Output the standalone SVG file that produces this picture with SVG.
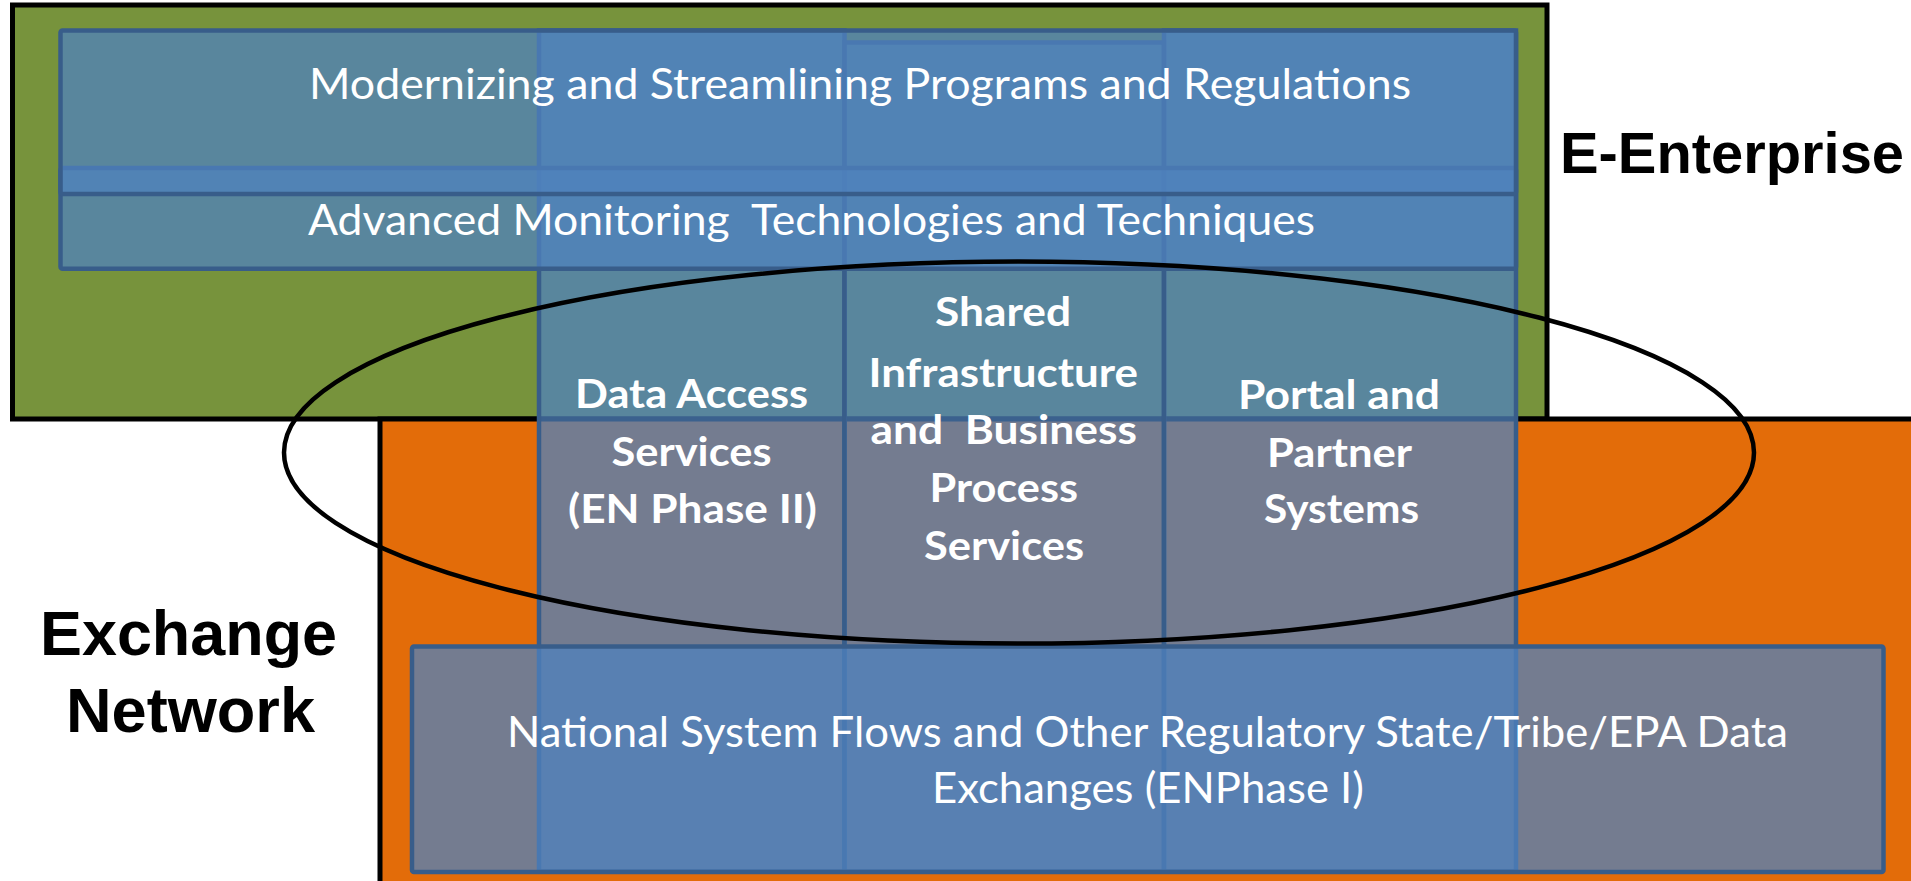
<svg xmlns="http://www.w3.org/2000/svg" width="1911" height="881" viewBox="0 0 1911 881">
<style>
.frame{stroke:#000;stroke-width:5}
.box{fill:#4f81bd;fill-opacity:.75;stroke:#385d8a;stroke-width:4.5}
.t{font-family:Lato,"Open Sans","Liberation Sans",sans-serif;fill:#fff;white-space:pre}
.reg{font-size:43px}
.bold{font-size:40px;font-weight:700}
.lbl{font-family:"Liberation Sans",Arial,sans-serif;font-weight:700;fill:#000}
.scope{fill:none;stroke:#000;stroke-width:4.5}
</style>
<rect width="1911" height="881" fill="#fff"/>
<g id="e-enterprise">
<rect class="frame" x="12.5" y="5" width="1534.5" height="414" fill="#77933c"/>
<text class="lbl" x="1560" y="173" font-size="57" textLength="344" lengthAdjust="spacingAndGlyphs">E-Enterprise</text>
</g>
<g id="exchange-network">
<rect class="frame" x="380" y="419" width="1540" height="470" fill="#e36c09"/>
<text class="lbl" x="40" y="655" font-size="63" textLength="297" lengthAdjust="spacingAndGlyphs">Exchange</text>
<text class="lbl" x="66" y="732" font-size="63" textLength="249" lengthAdjust="spacingAndGlyphs">Network</text>
</g>
<g id="col-data-access">
<rect class="box" x="539" y="30.5" width="305.5" height="841"/>
<text class="t bold" x="575" y="408" textLength="233" lengthAdjust="spacingAndGlyphs">Data Access</text>
<text class="t bold" x="611.5" y="466" textLength="160" lengthAdjust="spacingAndGlyphs">Services</text>
<text class="t bold" x="568" y="523" textLength="249" lengthAdjust="spacingAndGlyphs">(EN Phase II)</text>
</g>
<g id="col-shared">
<rect class="box" x="844.5" y="42.5" width="319.5" height="829"/>
<text class="t bold" x="935" y="326" textLength="136" lengthAdjust="spacingAndGlyphs">Shared</text>
<text class="t bold" x="868.5" y="387" textLength="269.5" lengthAdjust="spacingAndGlyphs">Infrastructure</text>
<text class="t bold" x="870.5" y="444" textLength="266.5" lengthAdjust="spacingAndGlyphs">and  Business</text>
<text class="t bold" x="929.5" y="502" textLength="148.5" lengthAdjust="spacingAndGlyphs">Process</text>
<text class="t bold" x="924" y="560" textLength="160" lengthAdjust="spacingAndGlyphs">Services</text>
</g>
<g id="col-portal">
<rect class="box" x="1164" y="30.5" width="352" height="841"/>
<text class="t bold" x="1238" y="409" textLength="202" lengthAdjust="spacingAndGlyphs">Portal and</text>
<text class="t bold" x="1267" y="467" textLength="145" lengthAdjust="spacingAndGlyphs">Partner</text>
<text class="t bold" x="1264" y="523" textLength="155" lengthAdjust="spacingAndGlyphs">Systems</text>
</g>
<g id="advanced-monitoring">
<rect class="box" x="60.5" y="168" width="1455.5" height="100.7" rx="2"/>
<text class="t reg" x="308" y="235" textLength="1007" lengthAdjust="spacingAndGlyphs">Advanced Monitoring  Technologies and Techniques</text>
</g>
<g id="modernizing">
<rect class="box" x="60.5" y="30.5" width="1455.5" height="163.5" rx="2"/>
<text class="t reg" x="309" y="99" textLength="1102" lengthAdjust="spacingAndGlyphs">Modernizing and Streamlining Programs and Regulations</text>
</g>
<g id="national-flows">
<rect class="box" x="412" y="646.5" width="1471.5" height="225.5" rx="2"/>
<text class="t reg" x="507" y="747" textLength="1281" lengthAdjust="spacingAndGlyphs">National System Flows and Other Regulatory State/Tribe/EPA Data</text>
<text class="t reg" x="932" y="803" textLength="432" lengthAdjust="spacingAndGlyphs">Exchanges (ENPhase I)</text>
</g>
<g id="overlap-scope">
<ellipse class="scope" cx="1019" cy="452.6" rx="735" ry="191"/>
</g>
<g id="connectors"/>
</svg>
